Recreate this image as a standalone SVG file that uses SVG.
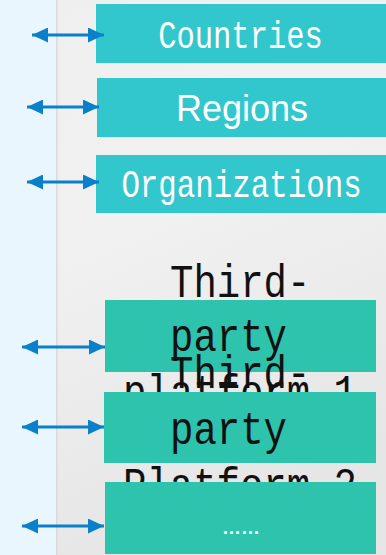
<svg xmlns="http://www.w3.org/2000/svg" width="386" height="555" viewBox="0 0 386 555">
<defs>
<linearGradient id="bg" x1="0" y1="0" x2="0.3" y2="1">
<stop offset="0" stop-color="#efefef"/>
<stop offset="0.45" stop-color="#f1f1f1"/>
<stop offset="1" stop-color="#e6e6e6"/>
</linearGradient>
<linearGradient id="sh" x1="0" y1="0" x2="1" y2="0">
<stop offset="0" stop-color="#d4d4d4"/>
<stop offset="1" stop-color="#efefef" stop-opacity="0"/>
</linearGradient>
<marker id="ah" markerUnits="userSpaceOnUse" markerWidth="16" markerHeight="15" refX="16" refY="7.5" orient="auto-start-reverse">
<path d="M0,0 L16,7.5 L0,15 Z" fill="#0a80c8"/>
</marker>
<style>
.b1{fill:#31c7cd}
.b2{fill:#2ec3ad}
.mono{font-family:"Liberation Mono","DejaVu Sans Mono",monospace}
.wt{fill:#ffffff}
.bk{fill:#111111}
.arr{stroke:#0a80c8;stroke-width:3;fill:none;marker-start:url(#ah);marker-end:url(#ah)}
</style>
</defs>
<rect x="0" y="0" width="386" height="555" fill="url(#bg)"/>
<rect x="0" y="0" width="56" height="555" fill="#eaf6fe"/>
<rect x="56" y="0" width="4" height="555" fill="url(#sh)"/>

<g id="countries">
<rect class="b1" x="96" y="4" width="290" height="59"/>
<text class="mono wt" transform="translate(240.5,48) scale(1,1.25)" x="0" y="0" font-size="30.5" text-anchor="middle">Countries</text>
</g>
<g id="regions">
<rect class="b1" x="97" y="78" width="289" height="59"/>
<text class="wt" x="242" y="121" font-size="36" text-anchor="middle" font-family="'Liberation Sans',Arial,sans-serif">Regions</text>
</g>
<g id="organizations">
<rect class="b1" x="96" y="155" width="290" height="58"/>
<text class="mono wt" transform="translate(241.5,197) scale(1,1.25)" x="0" y="0" font-size="30.8" text-anchor="middle">Organizations</text>
</g>
<g id="platform1">
<rect class="b2" x="105" y="300" width="271" height="72"/>
<text class="mono bk" font-size="39" transform="translate(0,297) scale(1,1.2)"><tspan x="170" y="0">Third-</tspan><tspan x="170" y="45">party </tspan><tspan x="123" y="91.7">platform 1</tspan></text>
</g>
<g id="platform2">
<rect class="b2" x="104" y="392" width="272" height="71"/>
<text class="mono bk" font-size="39" transform="translate(0,388) scale(1,1.2)"><tspan x="170" y="0">Third-</tspan><tspan x="170" y="46.7">party </tspan><tspan x="123" y="93.3">Platform 2</tspan></text>
</g>
<g id="more">
<rect class="b2" x="105" y="482" width="271" height="72"/>
<text class="wt" x="241" y="534" font-size="19" font-weight="bold" text-anchor="middle" font-family="'Liberation Sans',Arial,sans-serif">……</text>
</g>

<g id="connectors">
<line class="arr" x1="32" y1="35" x2="104" y2="35"/>
<line class="arr" x1="27" y1="107" x2="99" y2="107"/>
<line class="arr" x1="27" y1="182" x2="99" y2="182"/>
<line class="arr" x1="22" y1="347" x2="105" y2="347"/>
<line class="arr" x1="22" y1="427" x2="104" y2="427"/>
<line class="arr" x1="22" y1="526" x2="104" y2="526"/>
</g>
</svg>
